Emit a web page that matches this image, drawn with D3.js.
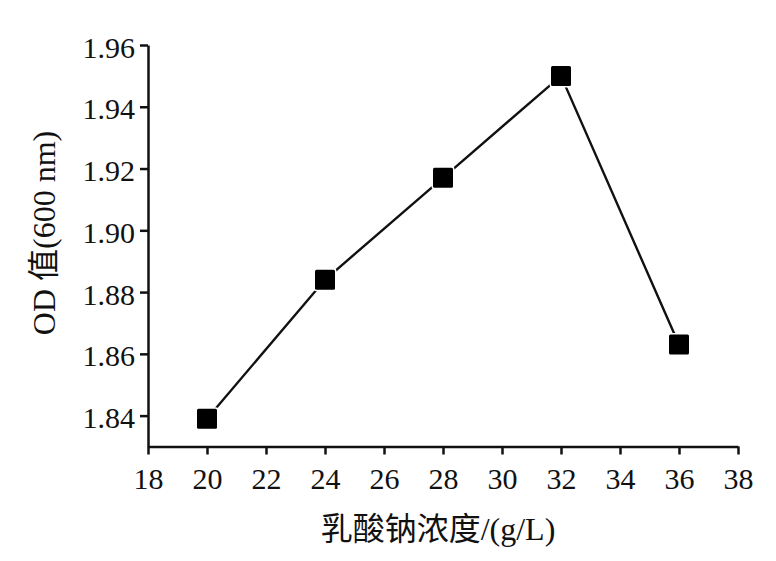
<!DOCTYPE html>
<html><head><meta charset="utf-8">
<script src="https://d3js.org/d3.v7.min.js"></script>
<style>body{margin:0;background:#fff}</style>
</head><body>
<svg id="c" width="776" height="561"></svg>
<script>
const categories = [20, 24, 28, 32, 36];
const odValues = [1.839, 1.884, 1.917, 1.950, 1.863];
const xTicks = [18, 20, 22, 24, 26, 28, 30, 32, 34, 36, 38];
const yTicks = [1.84, 1.86, 1.88, 1.90, 1.92, 1.94, 1.96];
const xLabel = "乳酸钠浓度/(g/L)";
const yLabel = "OD 值(600 nm)";

const svg = d3.select("#c");
const font = "'Liberation Serif','Times New Roman','Noto Sans CJK SC',serif";
const x = d3.scaleLinear().domain([18, 38]).range([148, 738]);
const y = d3.scaleLinear().domain([1.83, 1.96]).range([446.5, 45]);

const gx = svg.append("g").attr("transform", "translate(0,446.5)")
  .call(d3.axisBottom(x).tickValues(xTicks).tickFormat(d3.format("d")).tickSize(8).tickPadding(13).tickSizeOuter(0));
const gy = svg.append("g").attr("transform", "translate(148,0)")
  .call(d3.axisLeft(y).tickValues(yTicks).tickFormat(d3.format(".2f")).tickSize(8).tickPadding(5).tickSizeOuter(0));
[gx, gy].forEach(g => {
  g.selectAll("path.domain").attr("stroke", "#111").attr("stroke-width", 2.5);
  g.selectAll(".tick line").attr("stroke", "#111").attr("stroke-width", 2.5);
  g.selectAll(".tick text").attr("fill", "#111").style("font-family", font).style("font-size", "30px");
});
gy.selectAll(".tick text").attr("dy", "0.4em");

const line = d3.line().x((d, i) => x(categories[i])).y(d => y(d));
svg.append("path").datum(odValues).attr("d", line)
  .attr("fill", "none").attr("stroke", "#111").attr("stroke-width", 2.4);

svg.selectAll("rect.m").data(odValues).enter().append("rect").attr("class", "m")
  .attr("x", (d, i) => x(categories[i]) - 10).attr("y", d => y(d) - 10)
  .attr("width", 20).attr("height", 20).attr("rx", 1.5)
  .attr("fill", "#000").attr("stroke", "#fff").attr("stroke-width", 3).attr("paint-order", "stroke");

svg.append("text").attr("x", 438).attr("y", 540).attr("text-anchor", "middle")
  .style("font-family", font).style("font-size", "32px").attr("fill", "#111").text(xLabel);
svg.append("text").attr("transform", "translate(55,233) rotate(-90)").attr("text-anchor", "middle")
  .style("font-family", font).style("font-size", "32px").attr("fill", "#111").text(yLabel);
</script>
</body></html>
